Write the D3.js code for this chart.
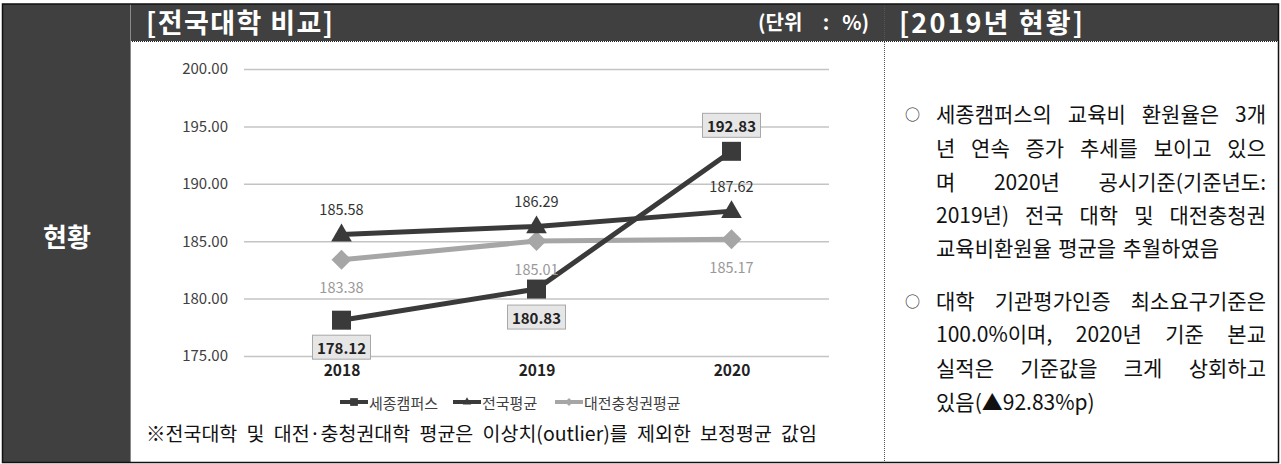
<!DOCTYPE html>
<html><head><meta charset="utf-8">
<script src="https://cdn.jsdelivr.net/npm/d3@7"></script>
<style>
html,body{margin:0;padding:0;background:#fff;}
svg{display:block;font-family:"Noto Sans CJK KR","Noto Sans",sans-serif;}
</style></head>
<body><svg id="c" width="1281" height="464"></svg>
<script>
// ---- data ----
const years = ["2018", "2019", "2020"];
const sejong = [178.12, 180.83, 192.83];
const national = [185.58, 186.29, 187.62];
const daejeon = [183.38, 185.01, 185.17];
const yTicks = [175, 180, 185, 190, 195, 200];
const seriesNames = ["세종캠퍼스", "전국평균", "대전충청권평균"];
const headerLeft = "[전국대학 비교]";
const headerUnit = ["(단위", ":", "%)"];
const headerRight = "[2019년 현황]";
const sideLabel = "현황";
const footnote = "※전국대학 및 대전·충청권대학 평균은 이상치(outlier)를 제외한 보정평균 값임";
const bullets = [
  ["세종캠퍼스의 교육비 환원율은 3개", "년 연속 증가 추세를 보이고 있으", "며 2020년 공시기준(기준년도:", "2019년) 전국 대학 및 대전충청권", "교육비환원율 평균을 추월하였음"],
  ["대학 기관평가인증 최소요구기준은", "100.0%이며, 2020년 기준 본교", "실적은 기준값을 크게 상회하고", "있음(▲92.83%p)"]
];

const svg = d3.select("#c");
const DARK = "#404040", LINE = "#3a3a3a", LIGHT = "#a6a6a6";
const FONT = "'Noto Sans CJK KR',sans-serif";

// ---- frame ----
svg.append("rect").attr("x", 3).attr("y", 4).attr("width", 1276).attr("height", 37).attr("fill", DARK);
svg.append("rect").attr("x", 3).attr("y", 4).attr("width", 127).attr("height", 459).attr("fill", DARK);
svg.append("line").attr("x1", 130).attr("x2", 1279).attr("y1", 41.5).attr("y2", 41.5)
  .attr("stroke", "#222").attr("stroke-width", 1).attr("stroke-dasharray", "1,1");
svg.append("line").attr("x1", 884.5).attr("x2", 884.5).attr("y1", 4).attr("y2", 463)
  .attr("stroke", "#555").attr("stroke-width", 1).attr("stroke-dasharray", "1,1");
svg.append("line").attr("x1", 130.5).attr("x2", 130.5).attr("y1", 4).attr("y2", 463).attr("stroke", "#8a8a8a").attr("stroke-width", 1);
svg.append("rect").attr("x", 2.5).attr("y", 4).attr("width", 1276).attr("height", 458.5)
  .attr("fill", "none").attr("stroke", "#111").attr("stroke-width", 1.5);

// header texts
svg.append("text").attr("x", 146).attr("y", 33).attr("fill", "#fff").attr("font-size", 27).attr("font-weight", "bold")
  .attr("textLength", 187).attr("lengthAdjust", "spacing").text(headerLeft);
const unitX = [758, 826, 869], unitAnchor = ["start", "middle", "end"];
headerUnit.forEach((t, i) => {
  svg.append("text").attr("x", unitX[i]).attr("y", 30).attr("fill", "#fff").attr("font-size", 20).attr("font-weight", "bold")
    .attr("text-anchor", unitAnchor[i]).text(t);
});
svg.append("text").attr("x", 899).attr("y", 33).attr("fill", "#fff").attr("font-size", 27).attr("font-weight", "bold")
  .attr("textLength", 184).attr("lengthAdjust", "spacing").text(headerRight);
svg.append("text").attr("x", 67).attr("y", 235).attr("fill", "#fff").attr("font-size", 26).attr("font-weight", "bold")
  .attr("text-anchor", "middle").attr("dominant-baseline", "central").text(sideLabel);

// ---- chart ----
const x = d3.scalePoint().domain(years).range([244, 829]).padding(0.5);
const y = d3.scaleLinear().domain([175, 200]).range([356, 69]);

const yAxis = svg.append("g").attr("transform", "translate(244,0)")
  .call(d3.axisLeft(y).tickValues(yTicks).tickFormat(d3.format(".2f")).tickSize(-585).tickPadding(16));
yAxis.select(".domain").remove();
yAxis.selectAll(".tick line").attr("stroke", "#c4c4c4").attr("stroke-width", 1.5);
yAxis.selectAll(".tick text").attr("font-size", 15).attr("fill", "#404040").attr("font-family", FONT);

const xAxis = svg.append("g").attr("transform", "translate(0,356)")
  .call(d3.axisBottom(x).tickSize(0).tickPadding(9));
xAxis.select(".domain").remove();
xAxis.selectAll(".tick text").attr("font-size", 15.5).attr("font-weight", "bold").attr("fill", "#222").attr("font-family", FONT);

const line = d3.line().x((d, i) => x(years[i])).y(d => y(d));
const series = [
  {name: seriesNames[0], vals: sejong, color: LINE, sym: d3.symbolSquare, size: 361, rot: 0},
  {name: seriesNames[1], vals: national, color: LINE, sym: d3.symbolTriangle, size: 185, rot: 0},
  {name: seriesNames[2], vals: daejeon, color: LIGHT, sym: d3.symbolSquare, size: 200, rot: 45}
];
[series[2], series[1], series[0]].forEach(s => {
  svg.append("path").datum(s.vals).attr("d", line).attr("fill", "none")
    .attr("stroke", s.color).attr("stroke-width", 5);
  svg.selectAll(null).data(s.vals).enter().append("path")
    .attr("d", d3.symbol().type(s.sym).size(s.size))
    .attr("transform", (d, i) => `translate(${x(years[i])},${y(d) + (s.sym === d3.symbolTriangle ? 1 : 0)}) rotate(${s.rot})`)
    .attr("fill", s.color);
});

// labels: national above
svg.selectAll(null).data(national).enter().append("text")
  .attr("x", (d, i) => x(years[i])).attr("y", d => y(d) - 26)
  .attr("text-anchor", "middle").attr("dominant-baseline", "central")
  .attr("font-size", 14.5).attr("fill", "#333").text(d => d3.format(".2f")(d));
// daejeon below
svg.selectAll(null).data(daejeon).enter().append("text")
  .attr("x", (d, i) => x(years[i])).attr("y", d => y(d) + 27)
  .attr("text-anchor", "middle").attr("dominant-baseline", "central")
  .attr("font-size", 14.5).attr("fill", "#999").text(d => d3.format(".2f")(d));
// sejong boxed labels
const sOff = [27, 28, -26];
sejong.forEach((d, i) => {
  const cx = x(years[i]), cy = y(d) + sOff[i];
  svg.append("rect").attr("x", cx - 29).attr("y", cy - 12).attr("width", 58).attr("height", 24)
    .attr("fill", "#e6e6e6").attr("stroke", "#a8a8a8").attr("stroke-width", 1);
  svg.append("text").attr("x", cx).attr("y", cy).attr("text-anchor", "middle").attr("dominant-baseline", "central")
    .attr("font-size", 15).attr("font-weight", "bold").attr("fill", "#222").text(d3.format(".2f")(d));
});

// legend
const legX = [340, 453, 555];
series.forEach((s, i) => {
  const g = svg.append("g").attr("transform", `translate(${legX[i]},402)`);
  g.append("line").attr("x1", 0).attr("x2", 28).attr("y1", 0).attr("y2", 0).attr("stroke", s.color).attr("stroke-width", 4);
  g.append("path").attr("d", d3.symbol().type(s.sym).size(s.size / 6)).attr("transform", `translate(14,0) rotate(${s.rot})`).attr("fill", s.color);
  g.append("text").attr("x", 29).attr("y", 0).attr("dominant-baseline", "central").attr("font-size", 15).attr("fill", "#404040").text(s.name);
});

// justify helper
function justify(str, x0, x1, yy, size, fill, doJustify) {
  const words = str.split(" ");
  const nodes = words.map(w => svg.append("text").attr("y", yy).attr("font-size", size).attr("fill", fill)
    .attr("dominant-baseline", "central").text(w));
  const widths = nodes.map(n => n.node().getComputedTextLength());
  const total = d3.sum(widths);
  const gap = (doJustify && words.length > 1) ? (x1 - x0 - total) / (words.length - 1) : size * 0.3;
  let cx = x0;
  nodes.forEach((n, i) => { n.attr("x", cx); cx += widths[i] + gap; });
}

justify(footnote, 146, 817, 432, 19.5, "#111", true);

// right panel bullets
const lineYs = [[113, 147, 181, 214, 247], [300, 333, 367, 401]];
bullets.forEach((lines, b) => {
  svg.append("text").attr("x", 905).attr("y", lineYs[b][0]).attr("dominant-baseline", "central")
    .attr("font-size", 15).attr("fill", "#222").text("○");
  lines.forEach((ln, j) => {
    const last = j === lines.length - 1;
    justify(ln, 936, 1266, lineYs[b][j], 21, "#111", !last);
  });
});
</script></body></html>
